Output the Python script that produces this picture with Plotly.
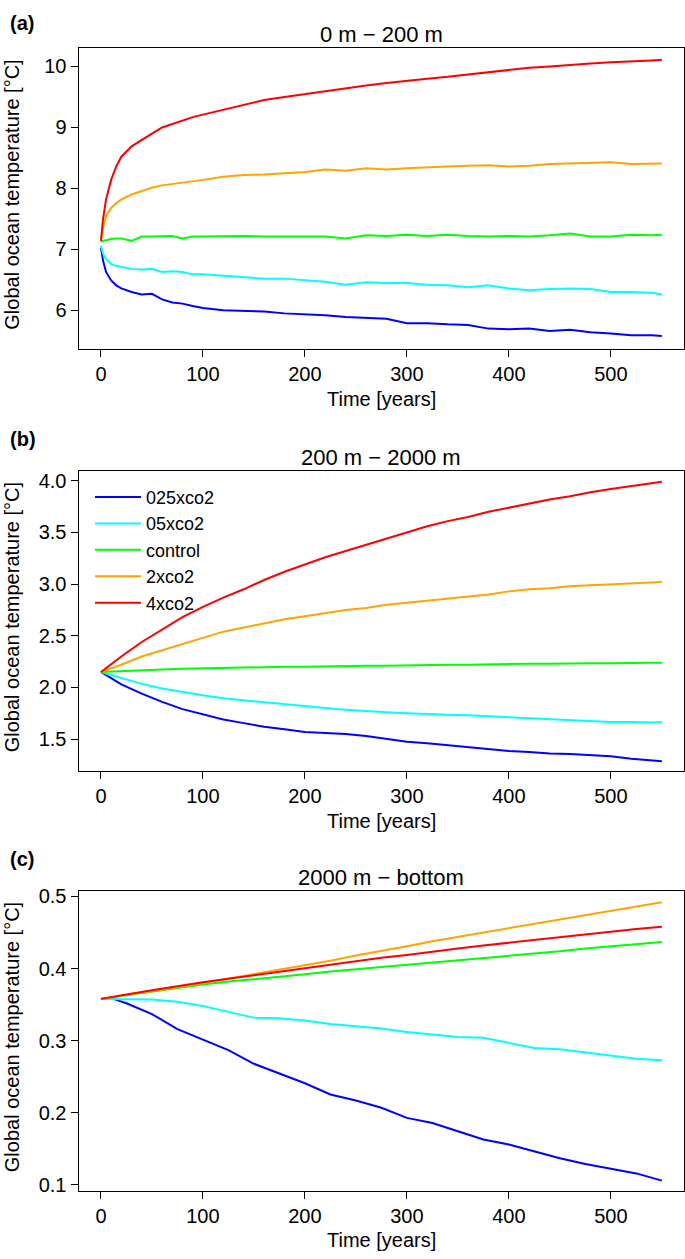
import plotly.graph_objects as go

# ---------------- data ----------------
SERIES = ["025xco2", "05xco2", "control", "2xco2", "4xco2"]
COLORS = ["#0000FF", "#00FFFF", "#00FF00", "#FFA500", "#FF0000"]

# Panel (a): 0 m - 200 m
T_A = [0, 2, 5, 10, 15, 20, 30, 40, 50, 60, 70, 80, 90, 100, 120, 140, 160, 180, 200,
       220, 240, 260, 280, 300, 320, 340, 360, 380, 400, 420, 440, 460, 480, 500, 520, 540, 550]
A_025 = [7.03, 6.82, 6.63, 6.49, 6.41, 6.36, 6.30, 6.26, 6.27, 6.18, 6.13, 6.11, 6.07, 6.04, 6.00,
         5.99, 5.98, 5.95, 5.94, 5.92, 5.89, 5.87, 5.86, 5.79, 5.79, 5.77, 5.76, 5.70, 5.69, 5.70,
         5.66, 5.68, 5.64, 5.62, 5.59, 5.59, 5.58]
A_05 = [7.06, 6.93, 6.84, 6.76, 6.73, 6.71, 6.68, 6.67, 6.68, 6.63, 6.64, 6.63, 6.59, 6.59, 6.57,
        6.55, 6.52, 6.52, 6.49, 6.47, 6.42, 6.46, 6.45, 6.45, 6.42, 6.41, 6.38, 6.41, 6.36, 6.33,
        6.35, 6.36, 6.35, 6.30, 6.30, 6.29, 6.26]
A_CTRL = [7.13, 7.14, 7.15, 7.17, 7.18, 7.18, 7.14, 7.21, 7.21, 7.21, 7.22, 7.18, 7.21, 7.21, 7.22,
          7.22, 7.21, 7.21, 7.22, 7.21, 7.18, 7.23, 7.22, 7.24, 7.22, 7.24, 7.22, 7.21, 7.22, 7.21,
          7.23, 7.26, 7.21, 7.21, 7.24, 7.23, 7.24]
A_2X = [7.14, 7.35, 7.55, 7.68, 7.76, 7.82, 7.90, 7.96, 8.01, 8.05, 8.07, 8.09, 8.11, 8.14, 8.19,
        8.22, 8.23, 8.25, 8.27, 8.31, 8.29, 8.33, 8.31, 8.33, 8.35, 8.36, 8.37, 8.38, 8.36, 8.37,
        8.40, 8.41, 8.41, 8.43, 8.40, 8.40, 8.41]
A_4X = [7.14, 7.49, 7.82, 8.14, 8.36, 8.52, 8.69, 8.80, 8.90, 9.00, 9.06, 9.12, 9.17, 9.21, 9.29,
        9.37, 9.45, 9.50, 9.55, 9.60, 9.65, 9.69, 9.73, 9.77, 9.80, 9.83, 9.87, 9.91, 9.94, 9.98,
        10.00, 10.03, 10.05, 10.07, 10.08, 10.10, 10.11]

# Panel (b): 200 m - 2000 m
T_B = [0, 20, 40, 60, 80, 100, 120, 140, 160, 180, 200, 220, 240, 260, 280, 300, 320, 340,
       360, 380, 400, 420, 440, 460, 480, 500, 520, 540, 550]
B_025 = [2.15, 2.03, 1.94, 1.86, 1.79, 1.74, 1.69, 1.655, 1.62, 1.595, 1.57, 1.56, 1.55, 1.53,
         1.50, 1.475, 1.46, 1.44, 1.42, 1.40, 1.385, 1.375, 1.36, 1.355, 1.345, 1.335, 1.31, 1.29, 1.285]
B_05 = [2.15, 2.09, 2.035, 1.99, 1.955, 1.925, 1.895, 1.875, 1.855, 1.835, 1.82, 1.80, 1.785, 1.77,
        1.76, 1.75, 1.74, 1.735, 1.73, 1.72, 1.71, 1.70, 1.69, 1.68, 1.67, 1.665, 1.665, 1.66, 1.665]
B_CTRL = [2.15, 2.16, 2.17, 2.175, 2.18, 2.185, 2.19, 2.19, 2.195, 2.20, 2.20, 2.205, 2.205, 2.21,
          2.21, 2.215, 2.215, 2.22, 2.22, 2.225, 2.225, 2.23, 2.23, 2.235, 2.235, 2.235, 2.24, 2.24, 2.24]
B_2X = [2.15, 2.22, 2.30, 2.36, 2.42, 2.48, 2.54, 2.58, 2.62, 2.66, 2.69, 2.72, 2.75, 2.77, 2.80,
        2.82, 2.84, 2.86, 2.88, 2.90, 2.93, 2.95, 2.96, 2.98, 2.99, 3.00, 3.01, 3.015, 3.02]
B_4X = [2.15, 2.30, 2.44, 2.56, 2.68, 2.78, 2.87, 2.95, 3.04, 3.12, 3.19, 3.26, 3.32, 3.38, 3.44,
        3.50, 3.56, 3.61, 3.65, 3.70, 3.74, 3.78, 3.82, 3.85, 3.89, 3.92, 3.95, 3.98, 3.99]

# Panel (c): 2000 m - bottom
T_C = [0, 10, 25, 50, 75, 100, 125, 150, 175, 200, 225, 250, 275, 300, 325, 350, 375, 400,
       425, 450, 475, 500, 525, 550]
C_025 = [0.358, 0.359, 0.352, 0.337, 0.316, 0.302, 0.287, 0.268, 0.254, 0.241, 0.2255, 0.217,
         0.207, 0.193, 0.186, 0.175, 0.163, 0.156, 0.146, 0.137, 0.129, 0.123, 0.116, 0.106]
C_05 = [0.358, 0.358, 0.358, 0.357, 0.354, 0.348, 0.340, 0.332, 0.331, 0.328, 0.323, 0.320,
        0.317, 0.312, 0.308, 0.305, 0.304, 0.297, 0.290, 0.288, 0.284, 0.280, 0.275, 0.273]
C_CTRL = [0.358, 0.360, 0.364, 0.369, 0.374, 0.378, 0.382, 0.385, 0.389, 0.392, 0.396, 0.399,
          0.403, 0.406, 0.409, 0.412, 0.415, 0.418, 0.421, 0.424, 0.428, 0.431, 0.435, 0.437]
C_2X = [0.358, 0.360, 0.363, 0.369, 0.374, 0.380, 0.386, 0.392, 0.399, 0.405, 0.411, 0.418,
        0.424, 0.431, 0.438, 0.444, 0.451, 0.457, 0.463, 0.469, 0.475, 0.481, 0.487, 0.492]
C_4X = [0.358, 0.360, 0.364, 0.370, 0.376, 0.381, 0.386, 0.391, 0.396, 0.400, 0.405, 0.410,
        0.415, 0.419, 0.424, 0.428, 0.432, 0.436, 0.440, 0.443, 0.447, 0.451, 0.455, 0.458]

PANEL_TITLES = ["0 m \u2212 200 m", "200 m \u2212 2000 m", "2000 m \u2212 bottom"]
PANEL_LABELS = ["(a)", "(b)", "(c)"]
X_TICKS = [0, 100, 200, 300, 400, 500]
Y_TICKS = [[6, 7, 8, 9, 10], [1.5, 2.0, 2.5, 3.0, 3.5, 4.0], [0.1, 0.2, 0.3, 0.4, 0.5]]
Y_FMT = ["d", ".1f", ".1f"]
Y_RANGES = [[5.366, 10.298], [1.189, 4.093], [0.0918, 0.5069]]
X_RANGE = [-22, 572]
X_TITLE = "Time [years]"
Y_TITLE = "Global ocean temperature [\u00b0C]"

# ---------------- layout geometry (pixels) ----------------
W, H = 685, 1259
BOX_L, BOX_R = 78.5, 684.3
BOXES = [(42.7, 346.0), (469.3, 772.0), (893.3, 1195.3)]  # (top, bottom)
FONT = "Liberation Sans, Arial, Helvetica, sans-serif"


def px(x):
    return x / W


def py(y):
    return 1 - y / H


fig = go.Figure()

panels = [
    (T_A, [A_025, A_05, A_CTRL, A_2X, A_4X]),
    (T_B, [B_025, B_05, B_CTRL, B_2X, B_4X]),
    (T_C, [C_025, C_05, C_CTRL, C_2X, C_4X]),
]

for i, (tt, ys) in enumerate(panels):
    xa = "x" if i == 0 else f"x{i+1}"
    ya = "y" if i == 0 else f"y{i+1}"
    for name, col, y in zip(SERIES, COLORS, ys):
        fig.add_trace(go.Scatter(
            x=tt, y=y, mode="lines", name=name,
            line=dict(color=col, width=2),
            xaxis=xa, yaxis=ya,
            showlegend=(i == 1),
        ))

axis_common = dict(
    showline=True, mirror=True, linecolor="black", linewidth=1,
    ticks="outside", ticklen=7, tickwidth=1, tickcolor="black",
    showgrid=False, zeroline=False,
    tickfont=dict(family=FONT, size=20, color="black"),
)

annotations = []
for i, (top, bot) in enumerate(BOXES):
    sfx = "" if i == 0 else str(i + 1)
    fig.layout["xaxis" + sfx] = dict(
        axis_common, domain=[px(BOX_L), px(BOX_R)], range=X_RANGE,
        tickvals=X_TICKS, anchor="y" + sfx,
    )
    fig.layout["yaxis" + sfx] = dict(
        axis_common, domain=[py(bot), py(top)], range=Y_RANGES[i],
        tickvals=Y_TICKS[i], tickformat=Y_FMT[i], anchor="x" + sfx,
    )
    # panel title
    annotations.append(dict(
        x=px((BOX_L + BOX_R) / 2), y=py(top - 14), xref="paper", yref="paper",
        text=PANEL_TITLES[i], showarrow=False, xanchor="center", yanchor="middle",
        font=dict(family=FONT, size=22, color="black"),
    ))
    # panel letter
    lab_y = [17, 437, 861][i]
    annotations.append(dict(
        x=px(8), y=py(lab_y), xref="paper", yref="paper",
        text="<b>" + PANEL_LABELS[i] + "</b>", showarrow=False, xanchor="left", yanchor="middle",
        font=dict(family=FONT, size=20, color="black"),
    ))
    # x title
    annotations.append(dict(
        x=px((BOX_L + BOX_R) / 2), y=py(bot + 50), xref="paper", yref="paper",
        text=X_TITLE, showarrow=False, xanchor="center", yanchor="middle",
        font=dict(family=FONT, size=20, color="black"),
    ))
    # y title
    annotations.append(dict(
        x=px(12), y=py((top + bot) / 2 - 4), xref="paper", yref="paper",
        text=Y_TITLE, showarrow=False, xanchor="center", yanchor="middle", textangle=-90,
        font=dict(family=FONT, size=20, color="black"),
    ))

fig.update_layout(
    width=W, height=H,
    margin=dict(l=0, r=0, t=0, b=0),
    paper_bgcolor="white", plot_bgcolor="white",
    font=dict(family=FONT, size=20, color="black"),
    annotations=annotations,
    legend=dict(
        x=px(90), y=py(477), xanchor="left", yanchor="top",
        bgcolor="rgba(0,0,0,0)", borderwidth=0,
        font=dict(family=FONT, size=18, color="black"),
        tracegroupgap=0, itemwidth=46,
    ),
)

# remove the default 8px page margin so the figure sits at the window origin
fig.write_html(
    "out.html",
    config={"displayModeBar": False},
    post_script="document.body.style.margin='0';document.body.style.overflow='hidden';",
)
